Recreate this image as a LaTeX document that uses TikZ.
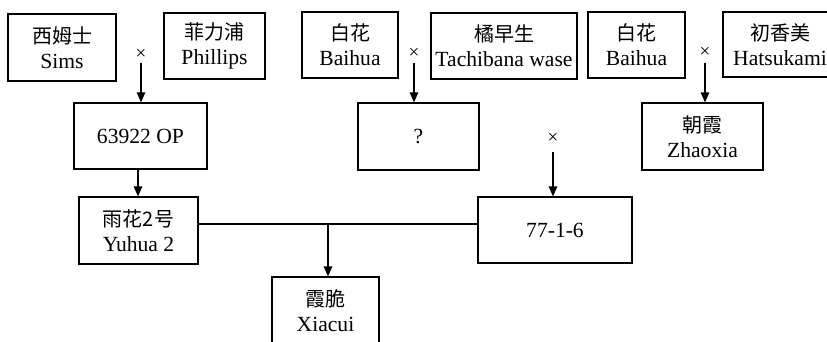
\documentclass[tikz,border=0pt]{standalone}
\usepackage{fontspec}
\setmainfont{Liberation Serif}
\newfontfamily\cjk{Noto Sans CJK SC}
\usetikzlibrary{arrows.meta}
\newcommand\zhtxt[1]{{\cjk\fontsize{20}{25}\selectfont #1}}
\begin{document}
\begin{tikzpicture}[x=1pt,y=-1pt,
  box/.style={draw,line width=1.2pt,inner sep=0pt,align=center,font=\fontsize{21.6}{25}\selectfont},
  cross/.style={inner sep=0pt,font=\fontsize{19}{19}\selectfont},
  conn/.style={line width=1.2pt},
  arr/.style={conn,-{Triangle[length=10pt,width=8.5pt]}}]
\useasboundingbox (0,0) rectangle (827,341);
% parents row
\node[box,minimum width=108pt,minimum height=67pt] (sims) at (62,47.5) {\zhtxt{西姆士}\\Sims};
\node[box,minimum width=101pt,minimum height=66pt] (phil) at (214.5,46) {\zhtxt{菲力浦}\\Phillips};
\node[box,minimum width=96pt,minimum height=66pt] (bai1) at (350,45) {\zhtxt{白花}\\Baihua};
\node[box,minimum width=146pt,minimum height=66pt] (tach) at (504,46) {\zhtxt{橘早生}\\Tachibana wase};
\node[box,minimum width=97pt,minimum height=66pt] (bai2) at (636.5,45) {\zhtxt{白花}\\Baihua};
\node[box,minimum width=114pt,minimum height=65pt] (hats) at (780,44.5) {\zhtxt{初香美}\\Hatsukami};
% second row
\node[box,minimum width=133pt,minimum height=66pt] (op) at (140.5,136) {63922 OP};
\node[box,minimum width=121pt,minimum height=67pt] (q) at (418.5,136.5) {?};
\node[box,minimum width=121pt,minimum height=67pt] (zhao) at (702.5,136.5) {\zhtxt{朝霞}\\Zhaoxia};
% third row
\node[box,minimum width=119pt,minimum height=67pt] (yuhua) at (138.5,230.5) {\zhtxt{雨花2号}\\Yuhua 2};
\node[box,minimum width=154pt,minimum height=66pt] (s7716) at (555,230) {77-1-6};
% bottom
\node[box,minimum width=107pt,minimum height=67pt] (xiacui) at (325.5,310.5) {\zhtxt{霞脆}\\Xiacui};
% crosses
\node[cross] (x1) at (141,54) {×};
\node[cross] (x2) at (414,53) {×};
\node[cross] (x3) at (705,52) {×};
\node[cross] (x4) at (553,138) {×};
\coordinate (a1) at (141,63);
\coordinate (a2) at (414,63);
\coordinate (a3) at (705,63);
\coordinate (a4) at (553,152);
\draw[arr] (a1) -- (op.north -| a1);
\draw[arr] (a2) -- (q.north -| a2);
\draw[arr] (a3) -- (zhao.north -| a3);
\draw[arr] (a4) -- (s7716.north -| a4);
\coordinate (c2) at (138,0);
\draw[arr] (op.south -| c2) -- (yuhua.north -| c2);
\coordinate (j) at (328,224);
\draw[conn] (yuhua.east |- j) -- (s7716.west |- j);
\draw[arr] (j) -- (xiacui.north -| j);
\end{tikzpicture}
\end{document}
